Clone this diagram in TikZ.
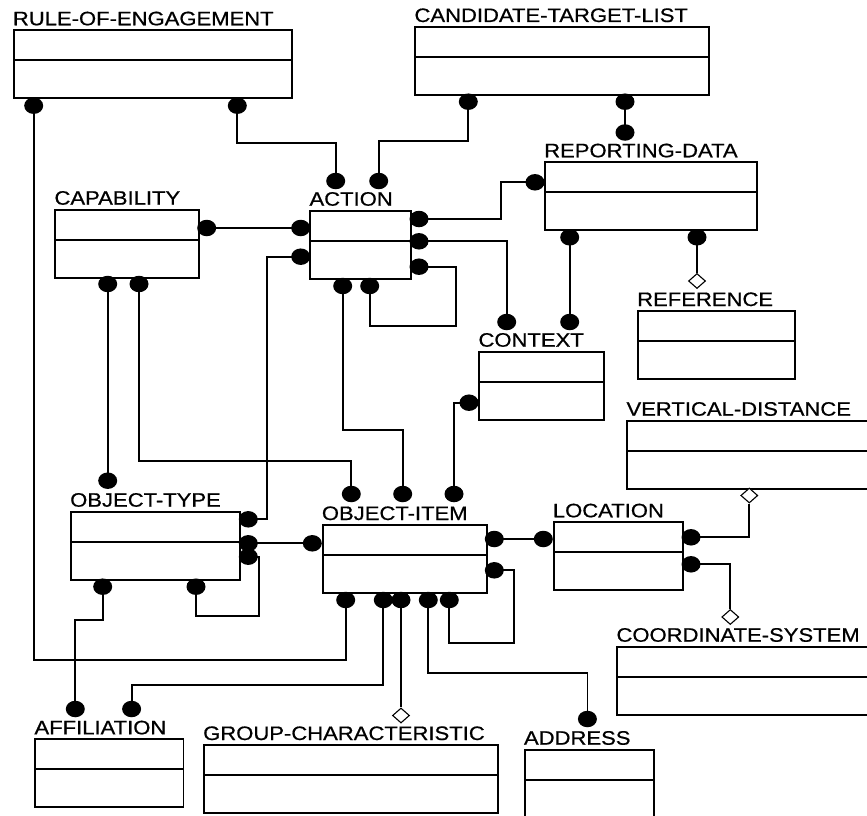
\documentclass[tikz,border=0pt]{standalone}
\usepackage{fontspec}
\setmainfont[FakeBold=0.6]{Liberation Sans}
\usetikzlibrary{shapes.geometric}
\pgfdeclarelayer{links}
\pgfsetlayers{links,main}
\newcommand\entname[1]{\scalebox{1.13}[1]{#1}}
\begin{document}
\begin{tikzpicture}[
  x=1pt, y=-1pt,
  entity/.style={draw, line width=1.8pt, anchor=north west, inner sep=0pt,
    minimum height=68pt,
    path picture={\draw[line width=1.8pt]
      ([yshift=-30pt]path picture bounding box.north west) --
      ([yshift=-30pt]path picture bounding box.north east);}},
  lbl/.style={anchor=base west, inner sep=0pt, font=\fontsize{19.5}{20}\selectfont},
  dot/.style={ellipse, fill=black, draw=none, inner sep=0pt,
    minimum width=19pt, minimum height=16.5pt},
  hollow/.style={diamond, draw, fill=white, line width=1.1pt, inner sep=0pt,
    minimum width=17pt, minimum height=15pt},
  link/.style={line width=1.8pt}
]
\useasboundingbox (0,0) rectangle (867,816);

% ---------- entities ----------
\node[entity, minimum width=278pt] (roe) at (12.7,29.3) {};
\node[lbl] (roeL) at ([yshift=4pt]roe.north west) {\entname{RULE-OF-ENGAGEMENT}};

\node[entity, minimum width=293.7pt] (ctl) at (414.3,26) {};
\node[lbl] (ctlL) at ([yshift=4pt]ctl.north west) {\entname{CANDIDATE-TARGET-LIST}};

\node[entity, minimum width=212.3pt] (rd) at (544,161.3) {};
\node[lbl] (rdL) at ([yshift=4pt]rd.north west) {\entname{REPORTING-DATA}};

\node[entity, minimum width=157.3pt] (ref) at (637,310) {};
\node[lbl] (refL) at ([yshift=4pt]ref.north west) {\entname{REFERENCE}};

\node[entity, minimum width=124.4pt] (ctx) at (478.3,350.7) {};
\node[lbl] (ctxL) at ([yshift=4pt]ctx.north west) {\entname{CONTEXT}};

\node[entity, minimum width=143.4pt] (cap) at (54.3,208.7) {};
\node[lbl] (capL) at ([yshift=4pt]cap.north west) {\entname{CAPABILITY}};

\node[entity, minimum width=100.5pt] (act) at (309.3,209.7) {};
\node[lbl] (actL) at ([yshift=4pt]act.north west) {\entname{ACTION}};

\node[entity, minimum width=169.3pt] (ot) at (70,510.7) {};
\node[lbl] (otL) at ([yshift=4pt]ot.north west) {\entname{OBJECT-TYPE}};

\node[entity, minimum width=164pt] (oi) at (321.7,524) {};
\node[lbl] (oiL) at ([yshift=4pt]oi.north west) {\entname{OBJECT-ITEM}};

\node[entity, minimum width=129.6pt] (loc) at (552.7,521.3) {};
\node[lbl] (locL) at ([yshift=4pt]loc.north west) {\entname{LOCATION}};

\node[entity, minimum width=280pt] (vd) at (626.3,419.7) {};
\node[lbl] (vdL) at ([yshift=4pt]vd.north west) {\entname{VERTICAL-DISTANCE}};

\node[entity, minimum width=290pt] (cs) at (616.3,645.7) {};
\node[lbl] (csL) at ([yshift=4pt]cs.north west) {\entname{COORDINATE-SYSTEM}};

\node[entity, minimum width=148.2pt] (aff) at (34.3,738.3) {};
\node[lbl] (affL) at ([yshift=4pt]aff.north west) {\entname{AFFILIATION}};

\node[entity, minimum width=294.2pt] (gc) at (203,744) {};
\node[lbl] (gcL) at ([yshift=4pt]gc.north west) {\entname{GROUP-CHARACTERISTIC}};

\node[entity, minimum width=129.4pt, minimum height=69pt] (adr) at (523.8,748.7) {};
\node[lbl] (adrL) at ([yshift=4pt]adr.north west) {\entname{ADDRESS}};

% ---------- relationship ends ----------
\node[dot] (roeA) at (33.7,105.7) {};
\node[dot] (roeB) at (237.3,105.7) {};
\node[dot] (ctlA) at (468.3,101.7) {};
\node[dot] (ctlB) at (625,101.7) {};
\node[dot] (rdT) at (625,132.5) {};
\node[dot] (rdW) at (535,182.3) {};
\node[dot] (rdB1) at (569.7,237.3) {};
\node[dot] (rdB2) at (697,237.3) {};
\node[hollow] (refD) at (697,281) {};
\node[dot] (capR) at (206.7,228) {};
\node[dot] (capB1) at (107.7,284) {};
\node[dot] (capB2) at (139,284) {};
\node[dot] (actT1) at (335.7,181) {};
\node[dot] (actT2) at (378.7,181) {};
\node[dot] (actW1) at (300.7,228) {};
\node[dot] (actW2) at (300.7,256.7) {};
\node[dot] (actE1) at (419,219) {};
\node[dot] (actE2) at (419,241.3) {};
\node[dot] (actE3) at (419,266.7) {};
\node[dot] (actB1) at (342.7,286) {};
\node[dot] (actB2) at (369.7,286) {};
\node[dot] (ctxT1) at (506.7,322) {};
\node[dot] (ctxT2) at (569.7,322) {};
\node[dot] (ctxW) at (469,402.7) {};
\node[dot] (otT) at (107.7,480.7) {};
\node[dot] (otE1) at (248.3,519.3) {};
\node[dot] (otE2) at (248.3,543.3) {};
\node[dot] (otE3) at (248.3,556.7) {};
\node[dot] (otB1) at (102.7,586.7) {};
\node[dot] (otB2) at (196,586.7) {};
\node[dot] (oiT1) at (351.3,494) {};
\node[dot] (oiT2) at (402.7,494) {};
\node[dot] (oiT3) at (454,494) {};
\node[dot] (oiW) at (312.3,543.3) {};
\node[dot] (oiE1) at (494.3,539) {};
\node[dot] (oiE2) at (494.3,570.3) {};
\node[dot] (oiB1) at (345.7,600) {};
\node[dot] (oiB2) at (383.3,600) {};
\node[dot] (oiB3) at (401,600) {};
\node[dot] (oiB4) at (428.3,600) {};
\node[dot] (oiB5) at (449.3,600) {};
\node[dot] (locW) at (543.3,539) {};
\node[dot] (locE1) at (691,537.3) {};
\node[dot] (locE2) at (691,564.3) {};
\node[hollow] (vdD) at (749.3,495.5) {};
\node[hollow] (csD) at (730.3,617) {};
\node[dot] (affT1) at (75.3,709) {};
\node[dot] (affT2) at (131.6,709) {};
\node[hollow] (gcD) at (401,715.5) {};
\node[dot] (adrT) at (587.4,719) {};

% ---------- relationships ----------
\begin{pgfonlayer}{links}
\draw[link] (roeA.center) -- ++(0,554.3) -| (oiB1.center);
\draw[link] (roeB.center) -- ++(0,37.6) -| (actT1.center);
\draw[link] (ctlA.center) -- ++(0,39.3) -| (actT2.center);
\draw[link] (ctlB.center) -- (rdT.center);
\draw[link] (rdW.center) -- ++(-34.3,0) |- (actE1.center);
\draw[link] (actE2.center) -| (ctxT1.center);
\draw[link] (actE3.center) -- ++(37.3,0) -- ++(0,59.3) -| (actB2.center);
\draw[link] (rdB1.center) -- (ctxT2.center);
\draw[link] (rdB2.center) -- (refD.north);
\draw[link] (capR.center) -- (actW1.center);
\draw[link] (actW2.center) -- ++(-34,0) |- (otE1.center);
\draw[link] (otE2.center) -- (oiW.center);
\draw[link] (otE3.center) -- ++(11,0) -- ++(0,59.3) -| (otB2.center);
\draw[link] (capB1.center) -- (otT.center);
\draw[link] (capB2.center) -- ++(0,176.7) -| (oiT1.center);
\draw[link] (actB1.center) -- ++(0,144) -| (oiT2.center);
\draw[link] (ctxW.center) -| (oiT3.center);
\draw[link] (oiE1.center) -- (locW.center);
\draw[link] (oiE2.center) -- ++(19.7,0) -- ++(0,73) -| (oiB5.center);
\draw[link] (oiB2.center) -- ++(0,85) -| (affT2.center);
\draw[link] (otB1.center) -- ++(0,33.3) -| (affT1.center);
\draw[link] (oiB3.center) -- (gcD.north);
\draw[link] (oiB4.center) -- ++(0,73) -| (adrT.center);
\draw[link] (locE1.center) -| (vdD.south);
\draw[link] (locE2.center) -| (csD.north);
\end{pgfonlayer}
\end{tikzpicture}
\end{document}
